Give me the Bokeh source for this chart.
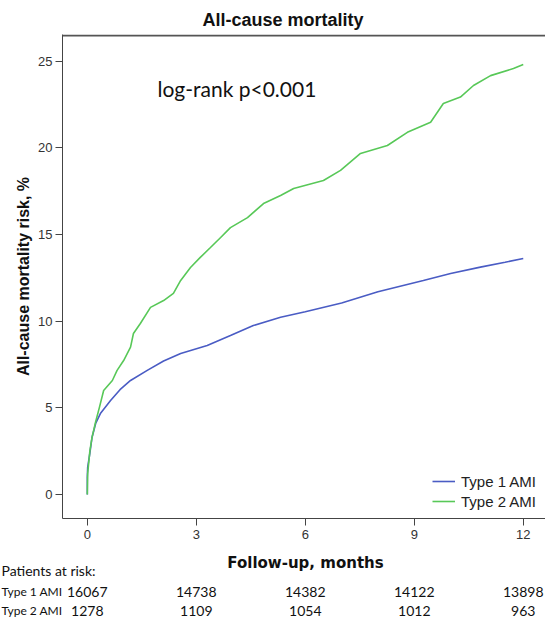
from bokeh.plotting import figure
from bokeh.models import (Range1d, FixedTicker, Label, Span, Title,
                          Legend, LegendItem, ColumnDataSource)
from bokeh.core.properties import value
from bokeh.embed import file_html
from bokeh.resources import INLINE

# ---------------- data ----------------
type1_months = [0, 0.0, 0.01, 0.07, 0.13, 0.23, 0.36, 0.64, 0.9, 1.19, 1.65, 2.1,
                2.57, 3.3, 3.94, 4.57, 5.32, 6.0, 7.0, 8.0, 9.25, 10.0, 10.82,
                11.5, 12.0]
type1_risk = [0, 0.98, 1.56, 2.37, 3.29, 4.1, 4.67, 5.42, 6.05, 6.58, 7.16, 7.7,
              8.14, 8.6, 9.17, 9.75, 10.23, 10.55, 11.05, 11.7, 12.35, 12.75,
              13.12, 13.4, 13.62]

type2_months = [0, 0.01, 0.07, 0.13, 0.23, 0.33, 0.45, 0.69, 0.82, 1.0, 1.19,
                1.27, 1.46, 1.74, 2.10, 2.37, 2.57, 2.84, 3.11, 3.39, 3.67, 3.94,
                4.41, 4.85, 5.32, 5.68, 6.5, 6.97, 7.52, 8.26, 8.81, 9.45, 9.8,
                10.27, 10.63, 11.1, 11.73, 12.0]
type2_risk = [0, 1.2, 2.5, 3.3, 4.2, 5.0, 6.0, 6.58, 7.16, 7.73, 8.5, 9.29, 9.87,
              10.8, 11.19, 11.6, 12.35, 13.1, 13.68, 14.25, 14.83, 15.4, 15.98,
              16.79, 17.25, 17.66, 18.12, 18.7, 19.68, 20.14, 20.9, 21.48, 22.56,
              22.93, 23.6, 24.17, 24.58, 24.81]

x_ticks = [0, 3, 6, 9, 12]
y_ticks = [0, 5, 10, 15, 20, 25]
at_risk_months = [0, 3, 6, 9, 12]
at_risk_type1 = ["16067", "14738", "14382", "14122", "13898"]
at_risk_type2 = ["1278", "1109", "1054", "1012", "963"]
series_names = ["Type 1 AMI", "Type 2 AMI"]

title_text = "All-cause mortality"
y_label_text = "All-cause mortality risk, %"
x_label_text = "Follow-up, months"
annot_text = "log-rank p<0.001"
risk_header = "Patients at risk:"

# ---------------- layout (page px) ----------------
W = 545
H1, H2 = 552, 68                     # main chart, at-risk table
FL, FT, FR, FB = 62, 34, 545, 518    # frame of main chart
PX_X = 36.33                         # px per month
PX_Y = 17.33                         # px per percent
X0 = -(86.8 - FL) / PX_X
X1 = X0 + (FR - FL) / PX_X
Y0 = -(FB - 494) / PX_Y
Y1 = Y0 + (FB - FT) / PX_Y

BLUE = "#4a5cc4"
GREEN = "#58c858"
ARIAL = "Liberation Sans"
INK = "#111111"

p = figure(width=W, height=H1, output_backend="svg", toolbar_location=None,
           x_range=Range1d(X0, X1), y_range=Range1d(Y0, Y1),
           min_border_left=FL, min_border_right=0, min_border_top=FT,
           min_border_bottom=H1 - FB)
p.outline_line_color = None
p.xgrid.visible = False
p.ygrid.visible = False

ttl = Title(text=title_text, text_font=ARIAL, text_font_style="bold",
            text_font_size="18px", text_color=INK, align="left",
            offset=140, standoff=9)
p.add_layout(ttl, "above")

# axes
xa = p.xaxis[0]
xa.ticker = FixedTicker(ticks=x_ticks)
xa.major_tick_out = 7
xa.major_tick_in = 0
xa.minor_tick_line_color = None
xa.major_label_standoff = 4
xa.major_label_text_font = ARIAL
xa.major_label_text_font_size = "13px"
xa.major_label_text_color = "#333333"
xa.axis_line_color = "#444444"
xa.major_tick_line_color = "#444444"

ya = p.yaxis[0]
ya.ticker = FixedTicker(ticks=y_ticks)
ya.major_tick_out = 7
ya.major_tick_in = 0
ya.minor_tick_line_color = None
ya.major_label_standoff = 3
ya.major_label_text_font = ARIAL
ya.major_label_text_font_size = "13px"
ya.major_label_text_color = "#333333"
ya.axis_line_color = "#444444"
ya.major_tick_line_color = "#444444"
ya.axis_label = y_label_text
ya.axis_label_text_font = ARIAL
ya.axis_label_text_font_style = "bold"
ya.axis_label_text_font_size = "16px"
ya.axis_label_text_color = INK
ya.axis_label_standoff = 3

# top border line of the plot box
p.add_layout(Span(location=Y1 - 1.0 / PX_Y, dimension="width",
                  line_color="#555555", line_width=2))

# curves
r1 = p.line(type1_months, type1_risk, line_color=BLUE, line_width=1.6)
r2 = p.line(type2_months, type2_risk, line_color=GREEN, line_width=1.6)

legend = Legend(items=[LegendItem(label=series_names[0], renderers=[r1]),
                       LegendItem(label=series_names[1], renderers=[r2])],
                location=(370, 7), padding=0, margin=0, spacing=0,
                glyph_width=23, glyph_height=20, label_height=20,
                label_standoff=6, border_line_color=None,
                background_fill_alpha=0, label_text_font=ARIAL,
                label_text_font_size="15px", label_text_color="#222222")
p.add_layout(legend)

p.add_layout(Label(x=(157 - 86.8) / PX_X, y=(494 - 88) / PX_Y,
                   text=annot_text, text_font="Lato", text_font_size="21px",
                   text_align="left", text_baseline="middle", text_color=INK))

# ---------------- at-risk table (same month scale, own root) ----------------
TX0 = -86.8 / PX_X
t = figure(width=W, height=H2, output_backend="svg", toolbar_location=None,
           x_range=Range1d(TX0, TX0 + W / PX_X), y_range=Range1d(H2, 0),
           x_axis_location=None, y_axis_location=None,
           min_border_left=0, min_border_right=0, min_border_top=0,
           min_border_bottom=0)
t.outline_line_color = None
t.xgrid.visible = False
t.ygrid.visible = False

ROW_X, ROW_H, ROW1, ROW2 = 10, 18, 39, 58   # local px from top of table

t.add_layout(Label(x=(305 - 86.8) / PX_X, y=ROW_X, text=x_label_text,
                   text_font="DejaVu Sans", text_font_style="bold",
                   text_font_size="15px", text_align="center",
                   text_baseline="middle", text_color=INK))
t.add_layout(Label(x=TX0 + 1 / PX_X, y=ROW_H, text=risk_header, text_font="Lato",
                   text_font_size="14px", text_align="left",
                   text_baseline="middle", text_color=INK))
for name, row in zip(series_names, [ROW1, ROW2]):
    t.add_layout(Label(x=TX0 + 1 / PX_X, y=row, text=name, text_font="Lato",
                       text_font_size="12px", text_align="left",
                       text_baseline="middle", text_color=INK))

for counts, row in zip([at_risk_type1, at_risk_type2], [ROW1, ROW2]):
    src = ColumnDataSource(dict(x=at_risk_months, y=[row] * len(counts),
                                t=counts))
    t.text(x="x", y="y", text="t", source=src, text_align="center",
           text_baseline="middle", text_font=value("Lato"),
           text_font_size="14px", text_color=INK)

open("out.html", "w").write(file_html([p, t], INLINE))
